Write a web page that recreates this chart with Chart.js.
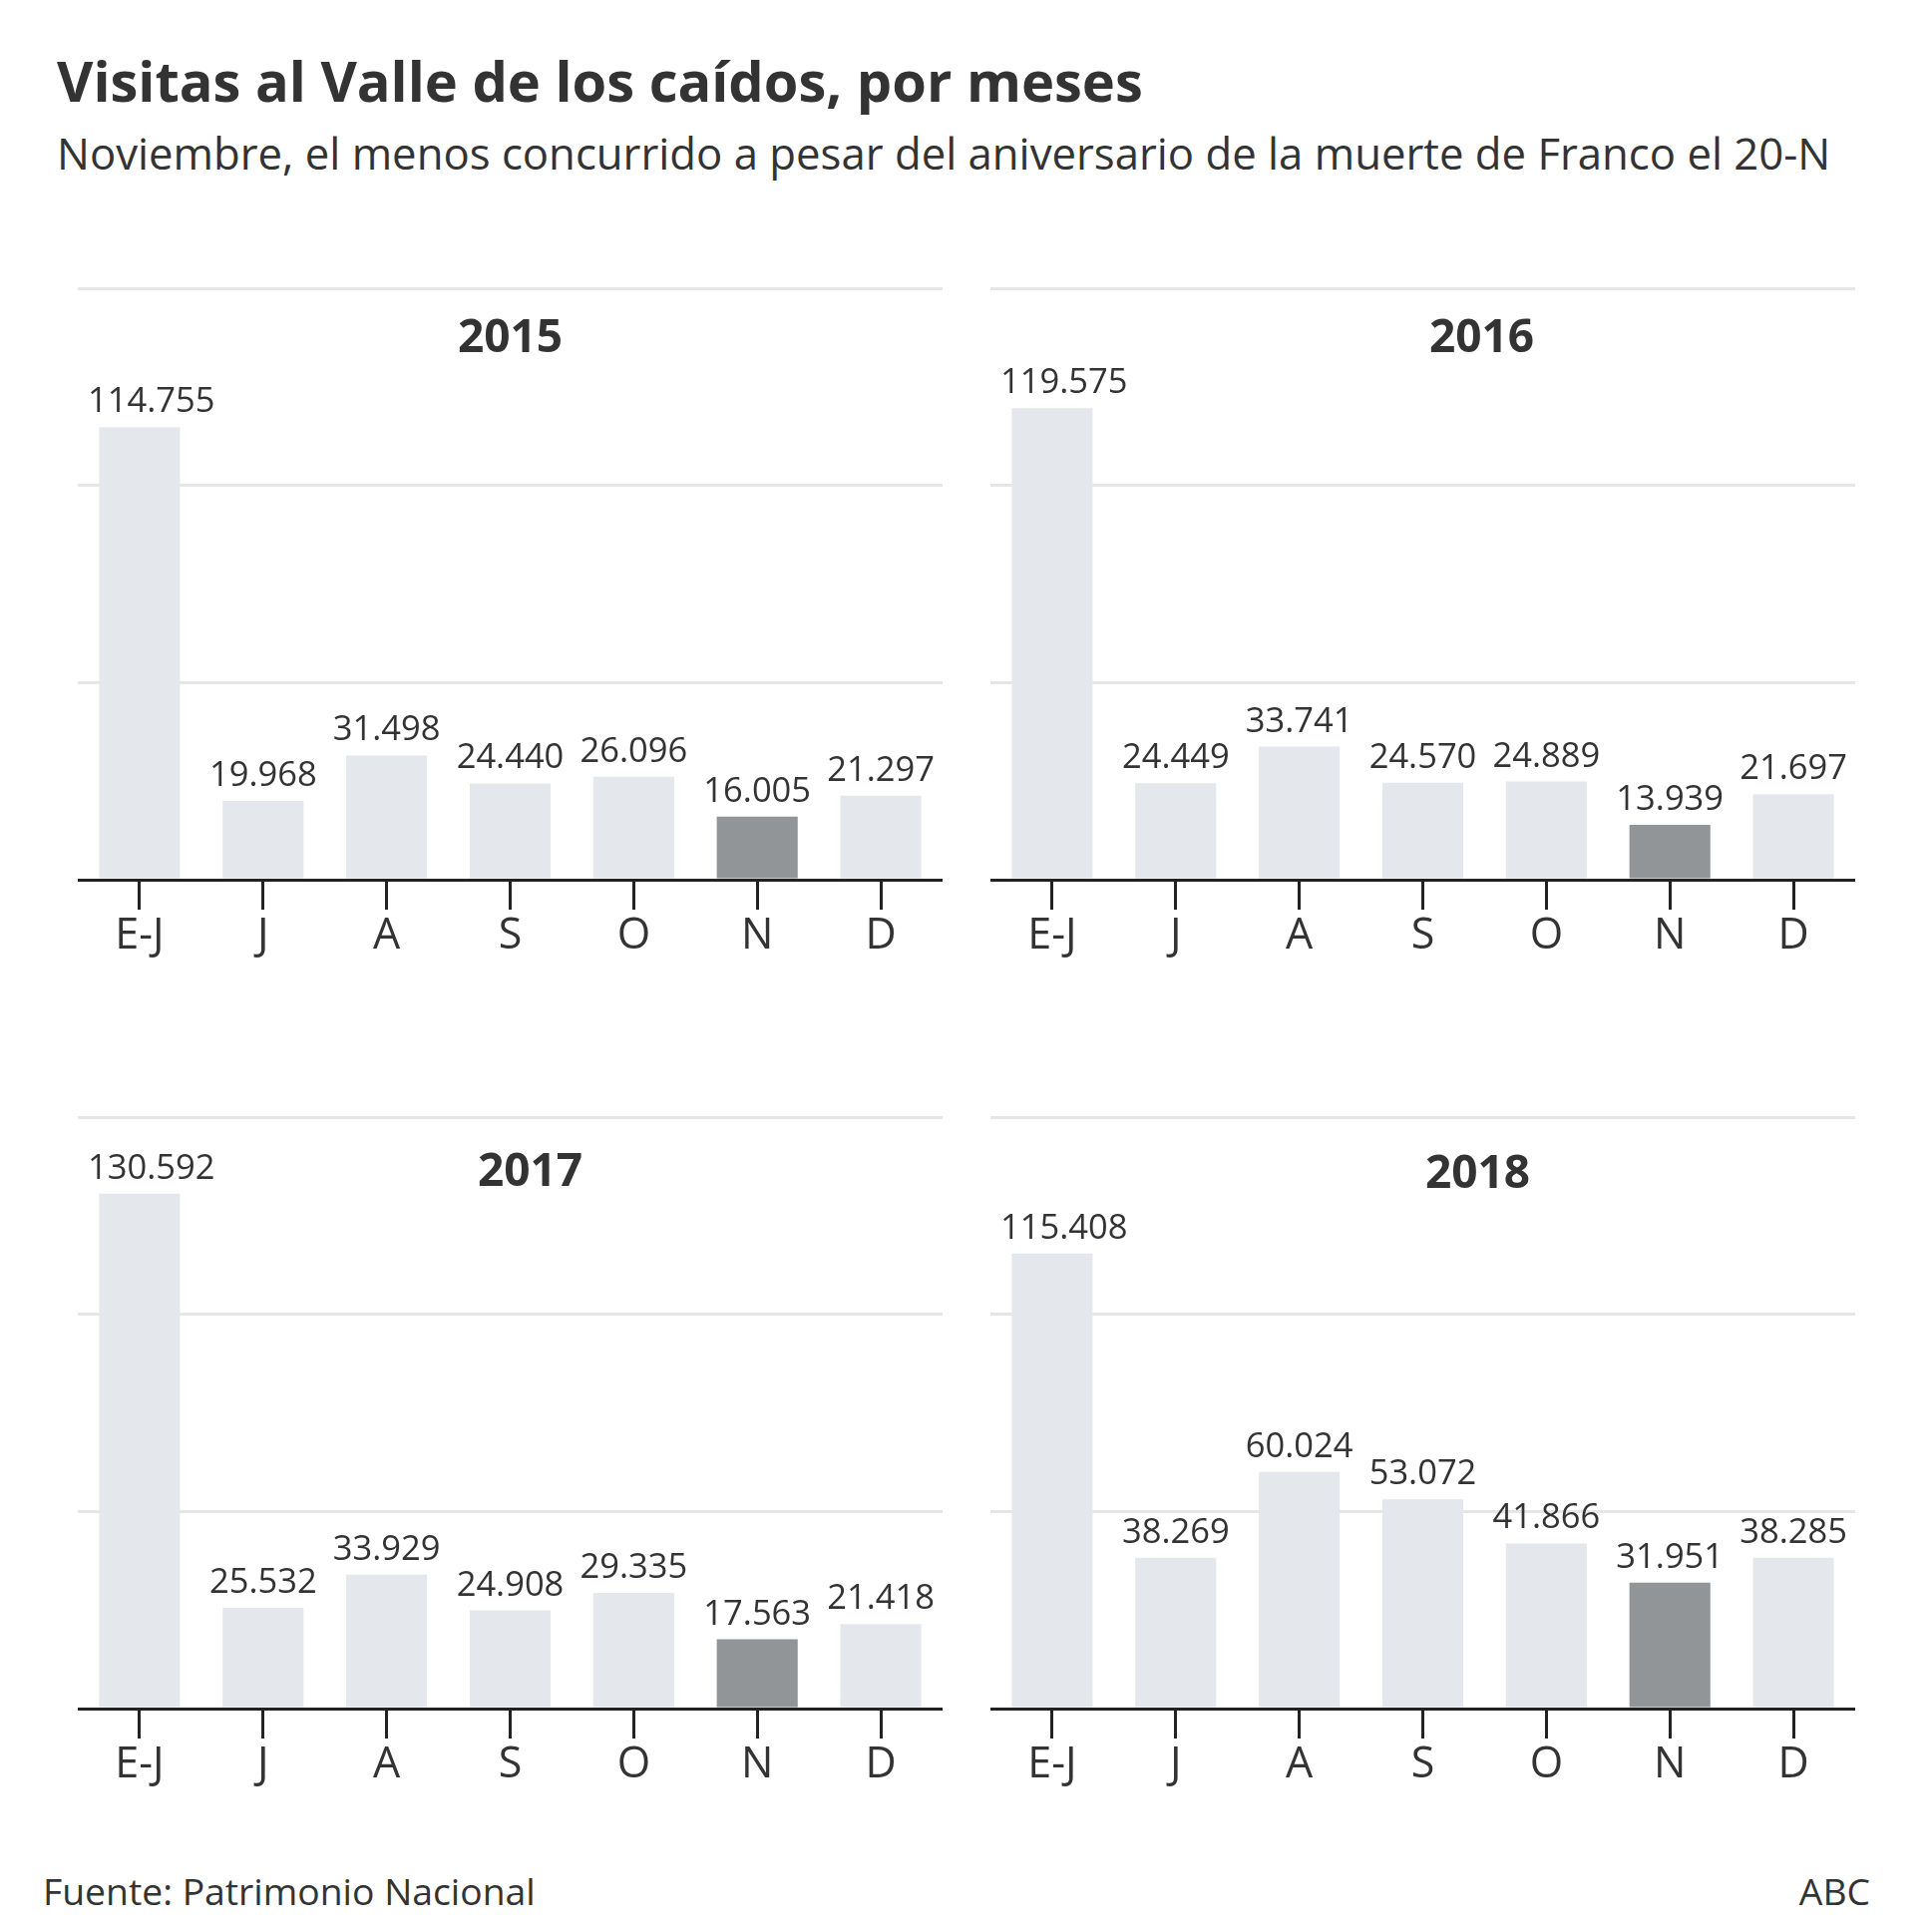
<!DOCTYPE html>
<html lang="es">
<head>
<meta charset="utf-8">
<title>Visitas al Valle de los caídos, por meses</title>
<script src="https://cdn.jsdelivr.net/npm/chart.js@4.4.1/dist/chart.umd.min.js"></script>
<style>
  html, body { margin: 0; padding: 0; background: #fff; }
  body { width: 1937px; height: 1937px; position: relative; font-family: 'Open Sans', sans-serif; color: #333; }
  .title { position: absolute; left: 57px; top: 42px; font-size: 56px; font-weight: 700; white-space: nowrap; }
  .subtitle { position: absolute; left: 57px; top: 123px; font-size: 43.7px; font-weight: 400; white-space: nowrap; }
  .footer { position: absolute; top: 1870px; font-size: 37.3px; white-space: nowrap; }
  .panel { position: absolute; }
</style>
</head>
<body>
<div class="title">Visitas al Valle de los caídos, por meses</div>
<div class="subtitle">Noviembre, el menos concurrido a pesar del aniversario de la muerte de Franco el 20-N</div>

<div class="panel" style="left:78px; top:270px; width:867px; height:712px;"><canvas id="chart2015"></canvas></div>
<div class="panel" style="left:993px; top:270px; width:867px; height:712px;"><canvas id="chart2016"></canvas></div>
<div class="panel" style="left:78px; top:1101px; width:867px; height:712px;"><canvas id="chart2017"></canvas></div>
<div class="panel" style="left:993px; top:1101px; width:867px; height:712px;"><canvas id="chart2018"></canvas></div>

<div class="footer" style="left:43px;">Fuente: Patrimonio Nacional</div>
<div class="footer" style="right:62px;">ABC</div>

<script>
// Datos: visitas mensuales (E-J = enero a junio acumulado)
const categories = ['E-J', 'J', 'A', 'S', 'O', 'N', 'D'];
const years = ['2015', '2016', '2017', '2018'];
const visits2015 = [114755, 19968, 31498, 24440, 26096, 16005, 21297];
const visits2016 = [119575, 24449, 33741, 24570, 24889, 13939, 21697];
const visits2017 = [130592, 25532, 33929, 24908, 29335, 17563, 21418];
const visits2018 = [115408, 38269, 60024, 53072, 41866, 31951, 38285];
const yTicks = [0, 50000, 100000, 150000];
const highlightMonth = 'N';

const colors = {
    bar: '#e4e8ec',
    highlight: '#929598',
    text: '#333333',
    axis: '#222222',
    grid: '#e6e6e6'
};

// Ajustes de cada panel: posición del título del año
const panels = [
    { id: 'chart2015', year: years[0], values: visits2015, titleShift: 0,  titleTop: 64 },
    { id: 'chart2016', year: years[1], values: visits2016, titleShift: 59, titleTop: 64 },
    { id: 'chart2017', year: years[2], values: visits2017, titleShift: 20, titleTop: 69 },
    { id: 'chart2018', year: years[3], values: visits2018, titleShift: 55, titleTop: 71 }
];

function formatEs(n) {
    return String(n).replace(/\B(?=(\d{3})+(?!\d))/g, '.');
}

// Etiquetas de valor sobre las barras y título del año
const labelsPlugin = {
    id: 'panelLabels',
    afterDatasetsDraw(chart, args, opts) {
        const ctx = chart.ctx;
        const meta = chart.getDatasetMeta(0);
        const area = chart.chartArea;
        ctx.save();
        ctx.fillStyle = colors.text;
        ctx.font = '400 34.5px "Open Sans"';
        ctx.textAlign = 'center';
        ctx.textBaseline = 'alphabetic';
        meta.data.forEach((bar, i) => {
            const txt = formatEs(chart.data.datasets[0].data[i]);
            const w = ctx.measureText(txt).width;
            // evitar que la etiqueta se salga por la izquierda
            const x = Math.max(bar.x, area.left + 10 + w / 2);
            ctx.fillText(txt, x, bar.y - 15);
        });
        ctx.font = '700 46px "Open Sans"';
        ctx.fillText(opts.year, (area.left + area.right) / 2 + opts.shift, area.top + opts.top);
        ctx.restore();
    }
};

panels.forEach(p => {
    const el = document.getElementById(p.id);
    new Chart(el.getContext('2d'), {
        type: 'bar',
        data: {
            labels: categories,
            datasets: [{
                data: p.values,
                backgroundColor: categories.map(c => c === highlightMonth ? colors.highlight : colors.bar),
                borderWidth: 0,
                categoryPercentage: 1,
                barPercentage: 0.655
            }]
        },
        options: {
            responsive: true,
            maintainAspectRatio: false,
            animation: false,
            layout: { padding: { top: 19, left: 0, right: 0, bottom: 0 } },
            plugins: {
                legend: { display: false },
                tooltip: { enabled: false },
                panelLabels: { year: p.year, shift: p.titleShift, top: p.titleTop }
            },
            scales: {
                x: {
                    offset: true,
                    grid: {
                        offset: false,
                        drawOnChartArea: false,
                        drawTicks: true,
                        tickLength: 30,
                        tickWidth: 3,
                        tickColor: colors.axis
                    },
                    border: { display: true, color: colors.axis, width: 3 },
                    ticks: {
                        color: colors.text,
                        font: { family: 'Open Sans', size: 43 },
                        padding: 1,
                        maxRotation: 0,
                        autoSkip: false
                    },
                    afterFit: s => { s.height = 100; }
                },
                y: {
                    min: 0,
                    max: 150000,
                    afterBuildTicks: s => { s.ticks = yTicks.map(v => ({ value: v })); },
                    grid: { color: colors.grid, lineWidth: 3, drawTicks: false },
                    border: { display: false },
                    ticks: { display: false },
                    afterFit: s => { s.width = 0; }
                }
            }
        },
        plugins: [labelsPlugin]
    });
});
</script>
</body>
</html>
